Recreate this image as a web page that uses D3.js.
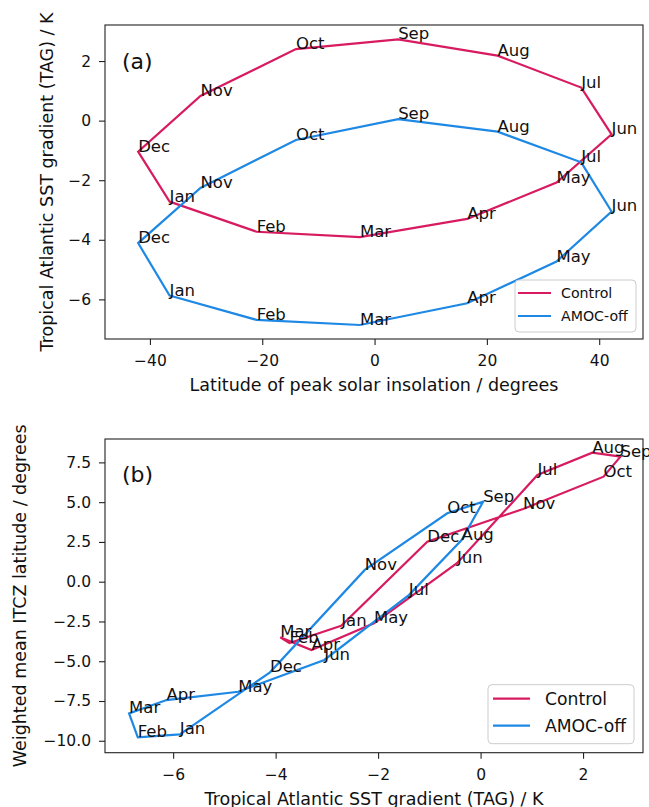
<!DOCTYPE html>
<html>
<head>
<meta charset="utf-8">
<script src="https://cdn.jsdelivr.net/npm/d3@7"></script>
<style>
    body { margin: 0; background: #fff; }
    svg { font-family: "DejaVu Sans", sans-serif; }
</style>
</head>
<body>
<div id="chart"></div>
<script>
// 月份标签
const months = ["Jan", "Feb", "Mar", "Apr", "May", "Jun", "Jul", "Aug", "Sep", "Oct", "Nov", "Dec"];

// 太阳辐射峰值纬度 (degrees)
const peakLat = [-36.5, -21.0, -2.6, 16.5, 32.4, 42.2, 36.8, 21.9, 4.2, -14.0, -31.0, -42.1];

// 热带大西洋SST梯度 TAG (K)
const tagControl = [-2.72, -3.73, -3.91, -3.30, -2.08, -0.46, 1.11, 2.18, 2.73, 2.40, 0.83, -1.04];
const tagAmocOff = [-5.87, -6.69, -6.86, -6.13, -4.73, -3.05, -1.40, -0.37, 0.05, -0.65, -2.26, -4.11];

// ITCZ 加权平均纬度 (degrees)
const itczControl = [-2.77, -3.86, -3.50, -4.30, -2.62, 1.16, 6.71, 8.11, 7.86, 6.60, 4.57, 2.52];
const itczAmocOff = [-9.60, -9.79, -8.28, -7.44, -6.92, -4.92, -0.84, 2.62, 5.03, 4.30, 0.74, -5.70];

// 图例
const seriesNames = ["Control", "AMOC-off"];
const seriesColors = ["#d81b60", "#1e88e5"];

// 刻度
const latTicks = [-40, -20, 0, 20, 40];
const tagTicksY = [-6, -4, -2, 0, 2];
const tagTicksX = [-6, -4, -2, 0, 2];
const itczTicks = [-10, -7.5, -5, -2.5, 0, 2.5, 5, 7.5];

const svg = d3.select("#chart")
    .append("svg")
    .attr("width", 649)
    .attr("height", 807);

// 画一个面板
function drawPanel(cfg) {
    const { box } = cfg;
    const x = d3.scaleLinear().domain(cfg.xDomain).range([box.left, box.right]);
    const y = d3.scaleLinear().domain(cfg.yDomain).range([box.bottom, box.top]);

    // x轴
    const xAxis = svg.append("g")
        .attr("transform", `translate(0,${box.bottom})`)
        .call(d3.axisBottom(x).tickValues(cfg.xTicks).tickFormat(cfg.xFmt).tickSize(6).tickPadding(10));
    xAxis.select(".domain").remove();
    xAxis.selectAll("line").attr("stroke", "#222").attr("stroke-width", 1.1);
    xAxis.selectAll("text").attr("font-size", "15.5px").attr("fill", "#111")
        .attr("font-family", "DejaVu Sans");

    // y轴
    const yAxis = svg.append("g")
        .attr("transform", `translate(${box.left},0)`)
        .call(d3.axisLeft(y).tickValues(cfg.yTicks).tickFormat(cfg.yFmt).tickSize(6).tickPadding(8));
    yAxis.select(".domain").remove();
    yAxis.selectAll("line").attr("stroke", "#222").attr("stroke-width", 1.1);
    yAxis.selectAll("text").attr("font-size", "15.5px").attr("fill", "#111")
        .attr("font-family", "DejaVu Sans");

    // 轴标题
    svg.append("text")
        .attr("x", (box.left + box.right) / 2)
        .attr("y", cfg.xLabelY)
        .attr("text-anchor", "middle")
        .attr("font-size", "17.5px")
        .attr("fill", "#111")
        .text(cfg.xLabel);

    svg.append("text")
        .attr("transform", `translate(${cfg.yLabelX},${(box.top + box.bottom) / 2}) rotate(-90)`)
        .attr("text-anchor", "middle")
        .attr("font-size", "17.5px")
        .attr("fill", "#111")
        .text(cfg.yLabel);

    // 闭合曲线
    const line = d3.line().x(d => x(d[0])).y(d => y(d[1])).curve(d3.curveLinearClosed);
    cfg.series.forEach((s, si) => {
        const pts = s.xs.map((v, i) => [v, s.ys[i]]);
        svg.append("path")
            .datum(pts)
            .attr("d", line)
            .attr("fill", "none")
            .attr("stroke", seriesColors[si])
            .attr("stroke-width", 2.2)
            .attr("stroke-linejoin", "miter");
    });

    // 月份标签
    cfg.series.forEach(s => {
        svg.append("g")
            .selectAll("text")
            .data(months)
            .enter()
            .append("text")
            .attr("x", (d, i) => x(s.xs[i]))
            .attr("y", (d, i) => y(s.ys[i]))
            .attr("font-size", "16.5px")
            .attr("fill", "#111")
            .text(d => d);
    });

    // 边框
    svg.append("rect")
        .attr("x", box.left)
        .attr("y", box.top)
        .attr("width", box.right - box.left)
        .attr("height", box.bottom - box.top)
        .attr("fill", "none")
        .attr("stroke", "#222")
        .attr("stroke-width", 1.1);

    // 面板编号
    svg.append("text")
        .attr("x", box.left + 17)
        .attr("y", box.top + cfg.tagDy)
        .attr("font-size", "22px")
        .attr("fill", "#111")
        .text(cfg.tag);

    // 图例
    const lg = cfg.legend;
    const legend = svg.append("g")
        .attr("transform", `translate(${box.right - lg.w - lg.inset},${box.bottom - lg.h - lg.inset})`);
    legend.append("rect")
        .attr("width", lg.w)
        .attr("height", lg.h)
        .attr("rx", 4)
        .attr("fill", "white")
        .attr("fill-opacity", 0.8)
        .attr("stroke", "#ccc");
    seriesNames.forEach((name, i) => {
        const ly = lg.row0 + i * lg.rowH;
        legend.append("line")
            .attr("x1", lg.pad)
            .attr("x2", lg.pad + lg.lineW)
            .attr("y1", ly)
            .attr("y2", ly)
            .attr("stroke", seriesColors[i])
            .attr("stroke-width", 2.2);
        legend.append("text")
            .attr("x", lg.textX)
            .attr("y", ly)
            .attr("dy", "0.36em")
            .attr("font-size", lg.font)
            .attr("fill", "#111")
            .text(name);
    });
}

const fmtInt = d3.format("d");
const fmt1 = d3.format(".1f");

// (a) 峰值纬度 vs TAG
drawPanel({
    box: { left: 105, right: 643, top: 25, bottom: 339 },
    xDomain: [-48, 47.8],
    yDomain: [-7.33, 3.21],
    xTicks: latTicks,
    yTicks: tagTicksY,
    xFmt: fmtInt,
    yFmt: fmtInt,
    xLabel: "Latitude of peak solar insolation / degrees",
    yLabel: "Tropical Atlantic SST gradient (TAG) / K",
    xLabelY: 391,
    yLabelX: 53,
    tag: "(a)",
    tagDy: 44,
    series: [
        { xs: peakLat, ys: tagControl },
        { xs: peakLat, ys: tagAmocOff }
    ],
    legend: { w: 121, h: 52, inset: 7, pad: 3, lineW: 33, textX: 46, row0: 13, rowH: 23, font: "14.2px" }
});

// (b) TAG vs ITCZ 纬度
drawPanel({
    box: { left: 105, right: 643, top: 439, bottom: 752.7 },
    xDomain: [-7.33, 3.17],
    yDomain: [-10.75, 8.97],
    xTicks: tagTicksX,
    yTicks: itczTicks,
    xFmt: fmtInt,
    yFmt: fmt1,
    xLabel: "Tropical Atlantic SST gradient (TAG) / K",
    yLabel: "Weighted mean ITCZ latitude / degrees",
    xLabelY: 804.5,
    yLabelX: 26,
    tag: "(b)",
    tagDy: 43,
    series: [
        { xs: tagControl, ys: itczControl },
        { xs: tagAmocOff, ys: itczAmocOff }
    ],
    legend: { w: 146, h: 59, inset: 9, pad: 5, lineW: 37, textX: 57, row0: 14, rowH: 27, font: "17.2px" }
});
</script>
</body>
</html>
